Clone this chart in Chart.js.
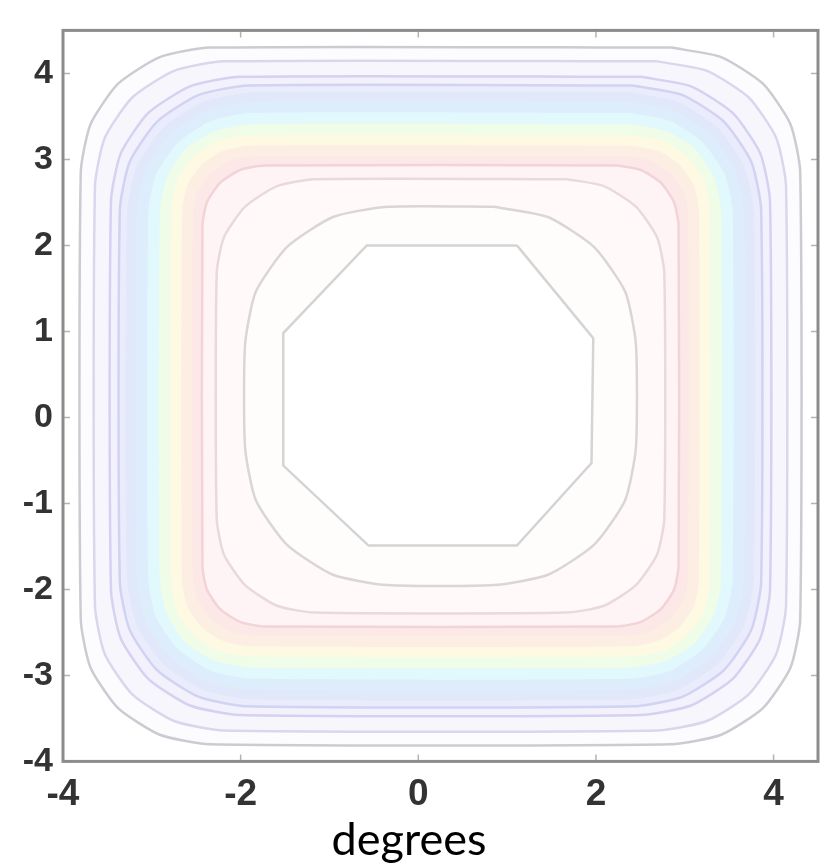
<!DOCTYPE html>
<html>
<head>
<meta charset="utf-8">
<script src="https://cdn.jsdelivr.net/npm/chart.js@4.4.1/dist/chart.umd.min.js"></script>
<style>
  html, body { margin: 0; padding: 0; background: #fff; }
  #wrap { width: 829px; height: 867px; }
</style>
</head>
<body>
<div id="wrap"><canvas id="contour" width="829" height="867"></canvas></div>
<script>
/* ───────── contour plot (degrees) ───────── */

// ─── AXES ───────────────────────────────
const xRange = [-4, 4.5];
const yRange = [-4, 4.5];
const xTicks = [-4, -2, 0, 2, 4];
const yTicks = [-4, -3, -2, -1, 0, 1, 2, 3, 4];

// ─── CONTOUR LINES (x, y in degrees) ────────────────────────
const outerGray = [
  [2.85,4.30],[3.41,4.19],[3.88,3.88],[4.19,3.41],[4.30,2.85],
  [4.30,-2.35],[4.19,-2.91],[3.88,-3.38],[3.41,-3.69],[2.85,-3.80],
  [-2.35,-3.80],[-2.91,-3.69],[-3.38,-3.38],[-3.69,-2.91],[-3.80,-2.35],
  [-3.80,2.85],[-3.69,3.41],[-3.38,3.88],[-2.91,4.19],[-2.35,4.30],[2.85,4.30]
];
const lavender1 = [
  [2.69,4.14],[3.25,4.03],[3.72,3.72],[4.03,3.25],[4.14,2.69],
  [4.14,-2.19],[4.03,-2.75],[3.72,-3.22],[3.25,-3.53],[2.69,-3.64],
  [-2.19,-3.64],[-2.75,-3.53],[-3.22,-3.22],[-3.53,-2.75],[-3.64,-2.19],
  [-3.64,2.69],[-3.53,3.25],[-3.22,3.72],[-2.75,4.03],[-2.19,4.14],[2.69,4.14]
];
const lavender2 = [
  [2.51,3.96],[3.07,3.85],[3.54,3.54],[3.85,3.07],[3.96,2.51],
  [3.96,-2.01],[3.85,-2.57],[3.54,-3.04],[3.07,-3.35],[2.51,-3.46],
  [-2.01,-3.46],[-2.57,-3.35],[-3.04,-3.04],[-3.35,-2.57],[-3.46,-2.01],
  [-3.46,2.51],[-3.35,3.07],[-3.04,3.54],[-2.57,3.85],[-2.01,3.96],[2.51,3.96]
];
const lavender3 = [
  [2.41,3.86],[2.97,3.75],[3.44,3.44],[3.75,2.97],[3.86,2.41],
  [3.86,-1.91],[3.75,-2.47],[3.44,-2.94],[2.97,-3.25],[2.41,-3.36],
  [-1.91,-3.36],[-2.47,-3.25],[-2.94,-2.94],[-3.25,-2.47],[-3.36,-1.91],
  [-3.36,2.41],[-3.25,2.97],[-2.94,3.44],[-2.47,3.75],[-1.91,3.86],[2.41,3.86]
];
const innerPink = [
  [2.23,2.93],[2.50,2.88],[2.73,2.73],[2.88,2.50],[2.93,2.23],
  [2.93,-1.73],[2.88,-2.00],[2.73,-2.23],[2.50,-2.38],[2.23,-2.43],
  [-1.73,-2.43],[-2.00,-2.38],[-2.23,-2.23],[-2.38,-2.00],[-2.43,-1.73],
  [-2.43,2.23],[-2.38,2.50],[-2.23,2.73],[-2.00,2.88],[-1.73,2.93],[2.23,2.93]
];
const innerRose = [
  [1.67,2.77],[2.09,2.69],[2.45,2.45],[2.69,2.09],[2.77,1.67],
  [2.77,-1.17],[2.69,-1.59],[2.45,-1.95],[2.09,-2.19],[1.67,-2.27],
  [-1.17,-2.27],[-1.59,-2.19],[-1.95,-1.95],[-2.19,-1.59],[-2.27,-1.17],
  [-2.27,1.67],[-2.19,2.09],[-1.95,2.45],[-1.59,2.69],[-1.17,2.77],[1.67,2.77]
];
const innerGray = [
  [0.85,2.45],[1.46,2.33],[1.98,1.98],[2.33,1.46],[2.45,0.85],
  [2.45,-0.35],[2.33,-0.96],[1.98,-1.48],[1.46,-1.83],[0.85,-1.95],
  [-0.35,-1.95],[-0.96,-1.83],[-1.48,-1.48],[-1.83,-0.96],[-1.95,-0.35],
  [-1.95,0.85],[-1.83,1.46],[-1.48,1.98],[-0.96,2.33],[-0.35,2.45],[0.85,2.45]
];
const centerOctagon = [
  [1.11,2.00],[1.97,0.92],[1.95,-0.53],[1.11,-1.49],
  [-0.56,-1.49],[-1.52,-0.56],[-1.52,0.98],[-0.58,2.00],[1.11,2.00]
];

// ─── FILLED BAND LEVELS (outer blue → inner pink) ─────
const bandBlue = [
  [2.38,3.78],[2.92,3.67],[3.37,3.37],[3.67,2.92],[3.78,2.38],
  [3.78,-1.88],[3.67,-2.42],[3.37,-2.87],[2.92,-3.17],[2.38,-3.28],
  [-1.88,-3.28],[-2.42,-3.17],[-2.87,-2.87],[-3.17,-2.42],[-3.28,-1.88],
  [-3.28,2.38],[-3.17,2.92],[-2.87,3.37],[-2.42,3.67],[-1.88,3.78],[2.38,3.78]
];
const bandSky = [
  [2.37,3.67],[2.87,3.57],[3.29,3.29],[3.57,2.87],[3.67,2.37],
  [3.67,-1.87],[3.57,-2.37],[3.29,-2.79],[2.87,-3.07],[2.37,-3.17],
  [-1.87,-3.17],[-2.37,-3.07],[-2.79,-2.79],[-3.07,-2.37],[-3.17,-1.87],
  [-3.17,2.37],[-3.07,2.87],[-2.79,3.29],[-2.37,3.57],[-1.87,3.67],[2.37,3.67]
];
const bandCyan = [
  [2.39,3.54],[2.83,3.45],[3.20,3.20],[3.45,2.83],[3.54,2.39],
  [3.54,-1.89],[3.45,-2.33],[3.20,-2.70],[2.83,-2.95],[2.39,-3.04],
  [-1.89,-3.04],[-2.33,-2.95],[-2.70,-2.70],[-2.95,-2.33],[-3.04,-1.89],
  [-3.04,2.39],[-2.95,2.83],[-2.70,3.20],[-2.33,3.45],[-1.89,3.54],[2.39,3.54]
];
const bandGreen = [
  [2.41,3.41],[2.79,3.33],[3.12,3.12],[3.33,2.79],[3.41,2.41],
  [3.41,-1.91],[3.33,-2.29],[3.12,-2.62],[2.79,-2.83],[2.41,-2.91],
  [-1.91,-2.91],[-2.29,-2.83],[-2.62,-2.62],[-2.83,-2.29],[-2.91,-1.91],
  [-2.91,2.41],[-2.83,2.79],[-2.62,3.12],[-2.29,3.33],[-1.91,3.41],[2.41,3.41]
];
const bandYellow = [
  [2.43,3.28],[2.76,3.22],[3.03,3.03],[3.22,2.76],[3.28,2.43],
  [3.28,-1.93],[3.22,-2.26],[3.03,-2.53],[2.76,-2.72],[2.43,-2.78],
  [-1.93,-2.78],[-2.26,-2.72],[-2.53,-2.53],[-2.72,-2.26],[-2.78,-1.93],
  [-2.78,2.43],[-2.72,2.76],[-2.53,3.03],[-2.26,3.22],[-1.93,3.28],[2.43,3.28]
];
const bandPeach = [
  [2.41,3.16],[2.70,3.10],[2.94,2.94],[3.10,2.70],[3.16,2.41],
  [3.16,-1.91],[3.10,-2.20],[2.94,-2.44],[2.70,-2.60],[2.41,-2.66],
  [-1.91,-2.66],[-2.20,-2.60],[-2.44,-2.44],[-2.60,-2.20],[-2.66,-1.91],
  [-2.66,2.41],[-2.60,2.70],[-2.44,2.94],[-2.20,3.10],[-1.91,3.16],[2.41,3.16]
];
const bandPink = [
  [2.34,3.04],[2.61,2.99],[2.84,2.84],[2.99,2.61],[3.04,2.34],
  [3.04,-1.84],[2.99,-2.11],[2.84,-2.34],[2.61,-2.49],[2.34,-2.54],
  [-1.84,-2.54],[-2.11,-2.49],[-2.34,-2.34],[-2.49,-2.11],[-2.54,-1.84],
  [-2.54,2.34],[-2.49,2.61],[-2.34,2.84],[-2.11,2.99],[-1.84,3.04],[2.34,3.04]
];

const pts = arr => arr.map(([x, y]) => ({ x, y }));

// fills, drawn outermost first
const fills = [
  { data: outerGray,     color: '#fcfcfe' },
  { data: lavender1,     color: '#f8f6fd' },
  { data: lavender2,     color: '#f2f1fc' },
  { data: lavender3,     color: '#ebecfb' },
  { data: bandBlue,      color: '#e1e8fa' },
  { data: bandSky,       color: '#ddedfc' },
  { data: bandCyan,      color: '#e1f8fc' },
  { data: bandGreen,     color: '#effce8' },
  { data: bandYellow,    color: '#fdf9e2' },
  { data: bandPeach,     color: '#fdeee4' },
  { data: bandPink,      color: '#fde8e8' },
  { data: innerPink,     color: '#fff4f5' },
  { data: innerRose,     color: '#fff9f9' },
  { data: innerGray,     color: '#fffcfc' },
  { data: centerOctagon, color: '#ffffff' }
];

const lines = [
  { data: outerGray,     color: '#cbcbd2' },
  { data: lavender1,     color: '#dad6ee' },
  { data: lavender2,     color: '#d5d1f0' },
  { data: lavender3,     color: '#d0d3f2' },
  { data: innerPink,     color: '#f2d3d7' },
  { data: innerRose,     color: '#e9d9dc' },
  { data: innerGray,     color: '#dad5d7' },
  { data: centerOctagon, color: '#d4d4d4' }
];

// rounded rings get a soft curve, the octagon stays straight-edged
const curve = d => (d === centerOctagon ? 0 : 0.2);

const datasets = [];
lines.forEach(l => datasets.push({
  data: pts(l.data),
  showLine: true,
  fill: false,
  tension: curve(l.data),
  borderColor: l.color,
  borderWidth: 2.5,
  pointRadius: 0,
  pointHitRadius: 0,
  order: 0
}));
fills.forEach((f, i) => datasets.push({
  data: pts(f.data),
  showLine: true,
  fill: 'shape',
  tension: curve(f.data),
  backgroundColor: f.color,
  borderWidth: 0,
  borderColor: 'transparent',
  pointRadius: 0,
  pointHitRadius: 0,
  order: 100 - i
}));

// ─── FRAME + INWARD TICKS ───────────────
const frame = {
  id: 'frame',
  afterDatasetsDraw(chart) {
    const { ctx, chartArea: a, scales: { x, y } } = chart;
    ctx.save();
    ctx.strokeStyle = '#b4b4b4';
    ctx.lineWidth = 1.5;
    ctx.beginPath();
    xTicks.forEach(v => {
      const px = x.getPixelForValue(v);
      ctx.moveTo(px, a.bottom); ctx.lineTo(px, a.bottom - 7);
      ctx.moveTo(px, a.top); ctx.lineTo(px, a.top + 7);
    });
    yTicks.forEach(v => {
      const py = y.getPixelForValue(v);
      ctx.moveTo(a.left, py); ctx.lineTo(a.left + 7, py);
      ctx.moveTo(a.right, py); ctx.lineTo(a.right - 7, py);
    });
    ctx.stroke();
    ctx.strokeStyle = '#8c8c8c';
    ctx.lineWidth = 3;
    ctx.strokeRect(a.left, a.top, a.right - a.left, a.bottom - a.top);
    ctx.restore();
  }
};

new Chart(document.getElementById('contour'), {
  type: 'scatter',
  data: { datasets },
  plugins: [frame],
  options: {
    responsive: false,
    animation: false,
    layout: { padding: { left: 0, right: 11, top: 8, bottom: 0 } },
    plugins: {
      legend: { display: false },
      tooltip: { enabled: false },
      title: {
        display: true,
        text: 'degrees',
        position: 'bottom',
        color: '#000',
        font: { family: 'Lato', size: 45, weight: 'normal', lineHeight: 1.2 },
        padding: { top: 0, bottom: 0 }
      }
    },
    scales: {
      x: {
        type: 'linear',
        min: xRange[0],
        max: xRange[1],
        afterBuildTicks: s => { s.ticks = xTicks.map(v => ({ value: v })); },
        afterFit: s => { s.height = 51.6; },
        grid: { display: false, drawTicks: false },
        border: { display: false },
        ticks: {
          color: '#333',
          font: { family: 'Liberation Sans', size: 37, weight: 'bold' },
          padding: 11,
          maxRotation: 0
        }
      },
      y: {
        type: 'linear',
        min: yRange[0],
        max: yRange[1],
        afterBuildTicks: s => { s.ticks = yTicks.map(v => ({ value: v })); },
        afterFit: s => { s.width = 63; },
        grid: { display: false, drawTicks: false },
        border: { display: false },
        ticks: {
          color: '#333',
          font: { family: 'Liberation Sans', size: 34, weight: 'bold' },
          padding: 10
        }
      }
    }
  }
});
</script>
</body>
</html>
